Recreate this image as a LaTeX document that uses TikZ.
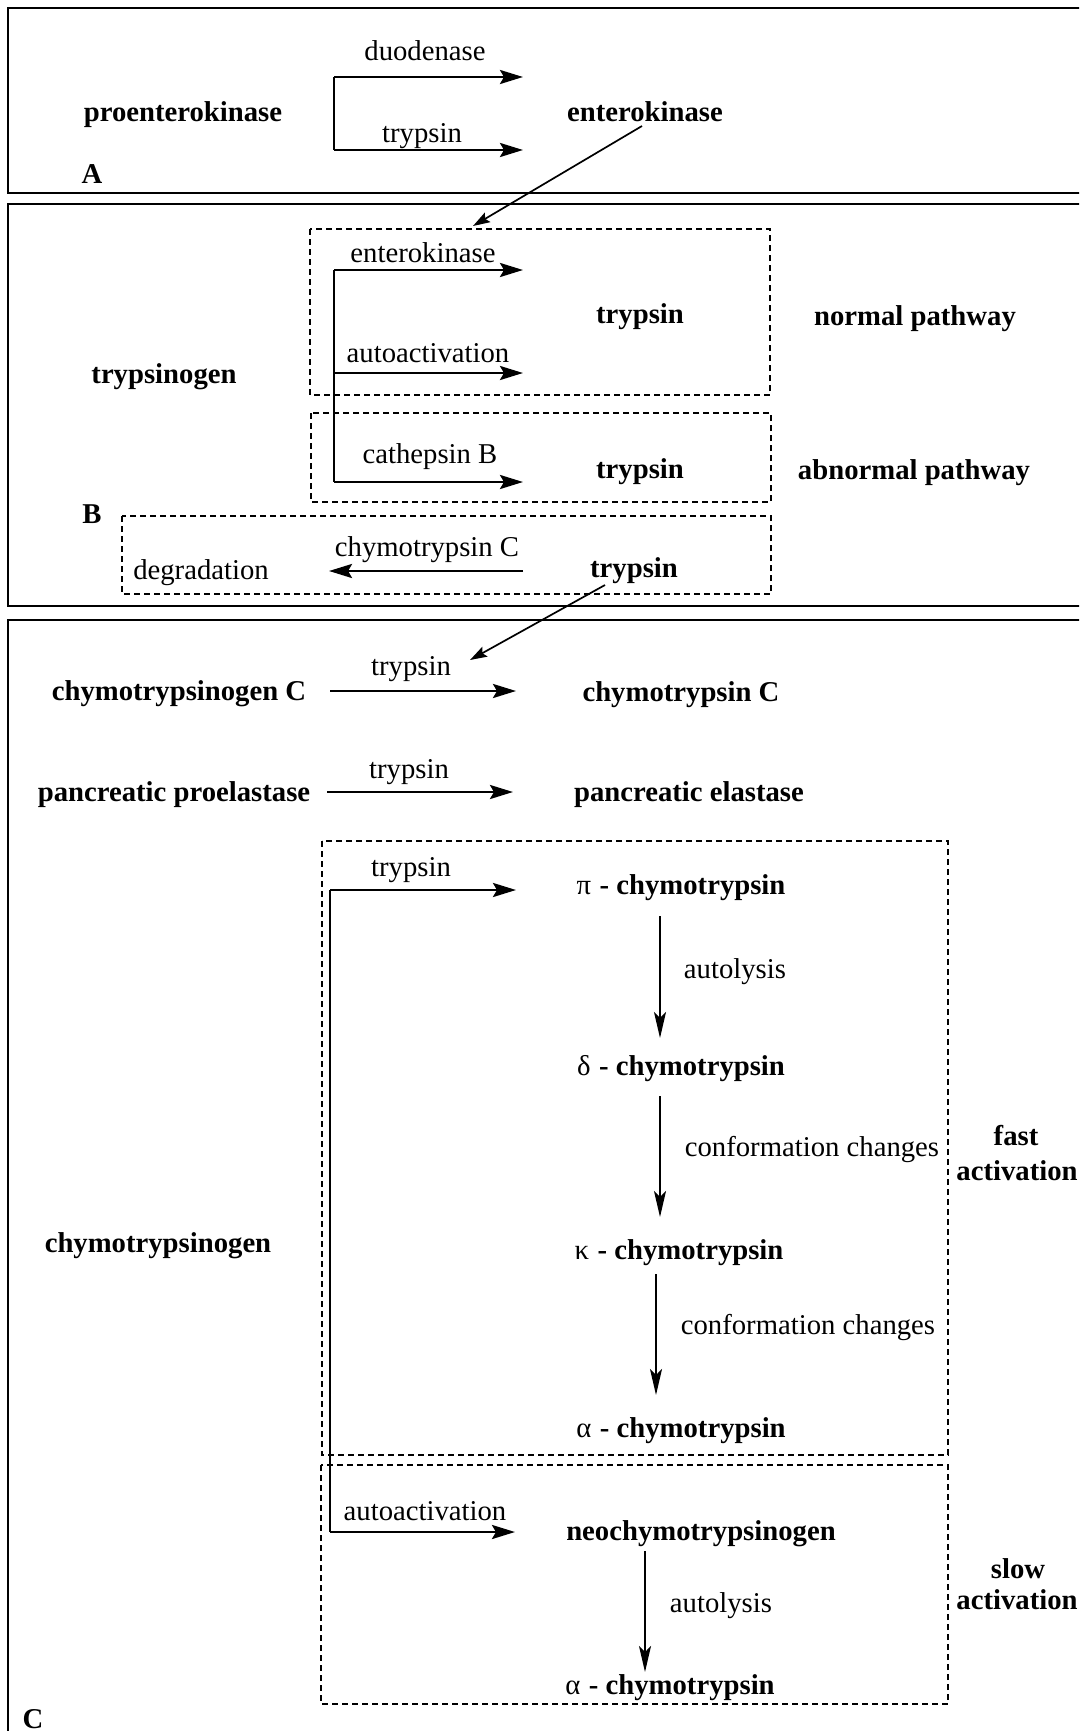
\documentclass[tikz,border=0pt]{standalone}
\usepackage{fontspec}
\setmainfont{Liberation Serif}
\usetikzlibrary{arrows.meta}
\tikzset{
  bt/.style={font=\fontsize{28.7}{34}\selectfont\bfseries, inner sep=0pt, anchor=base},
  rt/.style={font=\fontsize{28.7}{34}\selectfont, inner sep=0pt, anchor=base},
  panel/.style={draw, line width=2pt},
  dbox/.style={draw, line width=1.6pt, dash pattern=on 6pt off 4pt},
  harr/.style={line width=2.8pt, -{Stealth[length=23pt, width=14pt, inset=4pt]}},
  elbow/.style={line width=2pt},
  varr/.style={line width=1.9pt, -{Stealth[length=26pt, width=12pt, inset=6pt]}},
  darr/.style={line width=1.7pt, -{Stealth[length=17pt, width=11pt, inset=3pt]}},
}
\newcommand{\gk}[1]{\textmd{#1}\hspace{0.3em}}
\begin{document}
\begin{tikzpicture}[x=1pt, y=-1pt]
\useasboundingbox (0,0) rectangle (1079,1731);
\clip (0,0) rectangle (1079,1731);
% panels
\draw[panel] (8,8) rectangle (1110,193);
\draw[panel] (8,204) rectangle (1110,606);
\draw[panel] (8,620) rectangle (1110,1760);
% dashed boxes
\draw[dbox] (310,229) rectangle (770,395);
\draw[dbox] (311,413) rectangle (771,502);
\draw[dbox] (122,516) rectangle (771,594);
\draw[dbox] (322,841) rectangle (948,1455);
\draw[dbox] (321,1465) rectangle (948,1704);

% ---------- Panel A ----------
\node[bt] (proek) at (183,122) {proenterokinase};
\node[bt] (ek) at (645,122) {enterokinase};
\node[rt] (duod) at (425,61) {duodenase};
\node[rt] (trA) at (422,143) {trypsin};
\node[bt] (labA) at (92,184) {A};
\coordinate (a0) at (334,77);
\coordinate (a1) at (334,150);
\coordinate (a0e) at (523,77);
\coordinate (a1e) at (523,150);
\draw[elbow] (a0) -- (a1);
\draw[harr] (a0) -- (a0e);
\draw[harr] (a1) -- (a1e);
\coordinate (ekS) at (642,126);
\coordinate (ekT) at (473,226);
\draw[darr] (ekS) -- (ekT);

% ---------- Panel B ----------
\node[rt] (ekB) at (423,262) {enterokinase};
\node[rt] (autoB) at (428,362) {autoactivation};
\node[rt] (cathB) at (430,463) {cathepsin B};
\node[bt] (trN) at (640,323) {trypsin};
\node[bt] (trAb) at (640,478) {trypsin};
\node[bt] (tgen) at (164,383) {trypsinogen};
\node[bt] (normal) at (915,325) {normal pathway};
\node[bt] (abnormal) at (914,479) {abnormal pathway};
\node[bt] (labB) at (92,523) {B};
\node[rt] (degr) at (201,579) {degradation};
\node[rt] (ctcB) at (427,556) {chymotrypsin C};
\node[bt] (trD) at (634,577) {trypsin};
\coordinate (b0) at (334,270);
\coordinate (b1) at (334,373);
\coordinate (b2) at (334,482);
\coordinate (b0e) at (523,270);
\coordinate (b1e) at (523,373);
\coordinate (b2e) at (523,482);
\draw[elbow] (b0) -- (b2);
\draw[harr] (b0) -- (b0e);
\draw[harr] (b1) -- (b1e);
\draw[harr] (b2) -- (b2e);
\coordinate (dS) at (523,571);
\coordinate (dE) at (329,571);
\draw[harr] (dS) -- (dE);
\coordinate (trS) at (605,585);
\coordinate (trT) at (470,660);
\draw[darr] (trS) -- (trT);

% ---------- Panel C ----------
\node[rt] (trC1) at (411,675) {trypsin};
\node[bt] (ctgC) at (179,700) {chymotrypsinogen C};
\node[bt] (ctC) at (681,701) {chymotrypsin C};
\coordinate (c1s) at (330,691);
\coordinate (c1e) at (516,691);
\draw[harr] (c1s) -- (c1e);
\node[rt] (trC2) at (409,778) {trypsin};
\node[bt] (ppe) at (174,801) {pancreatic proelastase};
\node[bt] (pe) at (689,801) {pancreatic elastase};
\coordinate (c2s) at (327,792);
\coordinate (c2e) at (513,792);
\draw[harr] (c2s) -- (c2e);

\node[rt] (trC3) at (411,876) {trypsin};
\node[bt] (pi) at (681,894) {\gk{π}- chymotrypsin};
\node[rt] (autol1) at (735,978) {autolysis};
\node[bt] (delta) at (681,1075) {\gk{δ}- chymotrypsin};
\node[rt] (conf1) at (812,1156) {conformation changes};
\node[bt] (fast) at (1016,1145) {fast};
\node[bt] (fastact) at (1017,1180) {activation};
\node[bt] (kappa) at (679,1259) {\gk{κ}- chymotrypsin};
\node[rt] (conf2) at (808,1334) {conformation changes};
\node[bt] (alpha1) at (681,1437) {\gk{α}- chymotrypsin};
\node[rt] (autoC) at (425,1520) {autoactivation};
\node[bt] (neo) at (701,1540) {neochymotrypsinogen};
\node[rt] (autol2) at (721,1612) {autolysis};
\node[bt] (alpha2) at (670,1694) {\gk{α}- chymotrypsin};
\node[bt] (slow) at (1018,1578) {slow};
\node[bt] (slowact) at (1017,1609) {activation};
\node[bt] (labC) at (33,1728) {C};
\node[bt] (ctg) at (158,1252) {chymotrypsinogen};

\coordinate (c3) at (330,890);
\coordinate (c4) at (330,1532);
\coordinate (c3e) at (516,890);
\coordinate (c4e) at (515,1532);
\draw[elbow] (c3) -- (c4);
\draw[harr] (c3) -- (c3e);
\draw[harr] (c4) -- (c4e);

\coordinate (v1s) at (660,916);  \coordinate (v1e) at (660,1038);
\coordinate (v2s) at (660,1096); \coordinate (v2e) at (660,1217);
\coordinate (v3s) at (656,1274); \coordinate (v3e) at (656,1395);
\coordinate (v4s) at (645,1551); \coordinate (v4e) at (645,1672);
\draw[varr] (v1s) -- (v1e);
\draw[varr] (v2s) -- (v2e);
\draw[varr] (v3s) -- (v3e);
\draw[varr] (v4s) -- (v4e);
\end{tikzpicture}
\end{document}
